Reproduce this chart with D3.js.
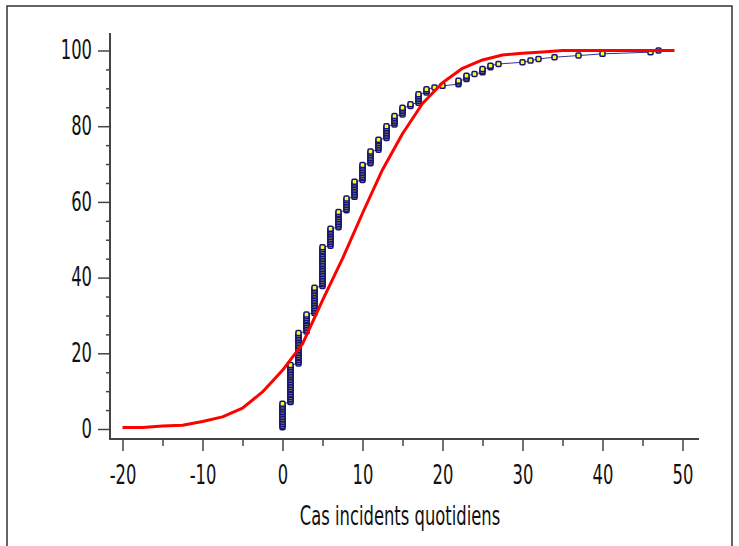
<!DOCTYPE html>
<html>
<head>
<meta charset="utf-8">
<script src="https://cdn.jsdelivr.net/npm/d3@7"></script>
<style>
  body { margin: 0; background: #fff; }
  text { font-family: "Liberation Sans Narrow", "DejaVu Sans Condensed", sans-serif; fill: #111; }
</style>
</head>
<body>
<div id="chart"></div>
<script>
const width = 739
const height = 546

// observed daily incident cases: value and how many days had it
const caseValues = [0, 1, 2, 3, 4, 5, 6, 7, 8, 9, 10, 11, 12, 13, 14, 15, 16, 17, 18, 19, 20, 22, 23, 24, 25, 26, 27, 30, 31, 32, 34, 37, 40, 46, 47]
const caseCounts = [15, 23, 19, 11, 16, 24, 11, 10, 8, 10, 10, 8, 7, 8, 6, 5, 2, 6, 3, 1, 1, 3, 3, 1, 3, 2, 1, 1, 1, 1, 1, 1, 1, 1, 1]

// fitted curve (red), percent
const fitX = [-20, -17.5, -15, -12.5, -10, -7.5, -5, -2.5, 0, 2.5, 5, 7.5, 10, 12.5, 15, 17.5, 20, 22.5, 25, 27.5, 30, 32.5, 35, 40, 45, 49]
const fitPct = [0.4, 0.4, 0.8, 1.0, 2.0, 3.2, 5.5, 9.8, 15.5, 22.5, 34, 45, 57, 68.5, 78, 86, 91.5, 95.3, 97.5, 98.8, 99.3, 99.6, 100, 100, 100, 100]

const xTicks = [-20, -10, 0, 10, 20, 30, 40, 50]
const xMinor = [-15, -5, 5, 15, 25, 35, 45]
const yTicks = [0, 20, 40, 60, 80, 100]
const yMinor = [5, 10, 15, 25, 30, 35, 45, 50, 55, 65, 70, 75, 85, 90, 95]
const xTitle = 'Cas incidents quotidiens'

const total = d3.sum(caseCounts)
const ecdf = []
let cum = 0
caseValues.forEach((v, i) => {
  for (let k = 0; k < caseCounts[i]; k++) {
    cum++
    ecdf.push({ x: v, y: cum / total * 100 })
  }
})

const x = d3.scaleLinear().domain([-20, 50]).range([122.5, 682.5])
const y = d3.scaleLinear().domain([0, 100]).range([429, 50.5])
const axisY = 439
const axisX = 110
const textScale = 0.7

const svg = d3.select('#chart')
  .append('svg')
  .attr('width', width)
  .attr('height', height)

svg.append('rect')
  .attr('x', 7).attr('y', 6)
  .attr('width', 725).attr('height', 600)
  .attr('fill', 'none')
  .attr('stroke', '#333')
  .attr('stroke-width', 1.5)

// x axis
const gx = svg.append('g').attr('transform', `translate(0,${axisY})`)
const gxMajor = gx.append('g')
  .call(d3.axisBottom(x).tickValues(xTicks).tickSize(12).tickPadding(15).tickFormat((d) => d < 0 ? '-' + Math.abs(d) : d))
gx.append('g').call(d3.axisBottom(x).tickValues(xMinor).tickSize(7).tickFormat(''))
gx.selectAll('.domain').remove()
gx.append('line')
  .attr('x1', axisX).attr('x2', 699)
  .attr('stroke', '#444').attr('stroke-width', 2)
gx.selectAll('.tick line').attr('stroke', '#444').attr('stroke-width', 1.5)
gxMajor.selectAll('.tick text')
  .attr('font-size', 26)
  .attr('transform', `scale(${textScale},1)`)

// y axis
const gy = svg.append('g').attr('transform', `translate(${axisX},0)`)
const gyMajor = gy.append('g')
  .call(d3.axisLeft(y).tickValues(yTicks).tickSize(12).tickFormat(d3.format('d')))
gy.append('g').call(d3.axisLeft(y).tickValues(yMinor).tickSize(4).tickFormat(''))
gy.selectAll('.domain').remove()
gy.append('line')
  .attr('y1', 33).attr('y2', axisY + 1)
  .attr('stroke', '#444').attr('stroke-width', 2)
gy.selectAll('.tick line').attr('stroke', '#444').attr('stroke-width', 1.5)
gyMajor.selectAll('.tick text')
  .attr('font-size', 26)
  .attr('x', -18 / textScale)
  .attr('transform', `scale(${textScale},1)`)

svg.selectAll('.tick text').attr('fill', '#111').attr('font-family', null)

svg.append('text')
  .attr('transform', `translate(400,525) scale(${textScale},1)`)
  .attr('text-anchor', 'middle')
  .attr('font-size', 26)
  .text(xTitle)

// empirical distribution
const line = d3.line().x((d) => x(d.x)).y((d) => y(d.y))
svg.append('path')
  .datum(ecdf)
  .attr('d', line)
  .attr('fill', 'none')
  .attr('stroke', '#34349a')
  .attr('stroke-width', 1)

svg.append('g')
  .selectAll('rect')
  .data(ecdf)
  .enter()
  .append('rect')
  .attr('x', (d) => x(d.x) - 2.5)
  .attr('y', (d) => y(d.y) - 2.5)
  .attr('width', 5)
  .attr('height', 5)
  .attr('rx', 1.2)
  .attr('fill', '#ffff00')
  .attr('stroke', '#141478')
  .attr('stroke-width', 1.5)

// fitted curve
const fit = fitX.map((v, i) => ({ x: v, y: fitPct[i] }))
svg.append('path')
  .datum(fit)
  .attr('d', line)
  .attr('fill', 'none')
  .attr('stroke', '#ff0000')
  .attr('stroke-width', 3)
  .attr('stroke-linejoin', 'round')
</script>
</body>
</html>
